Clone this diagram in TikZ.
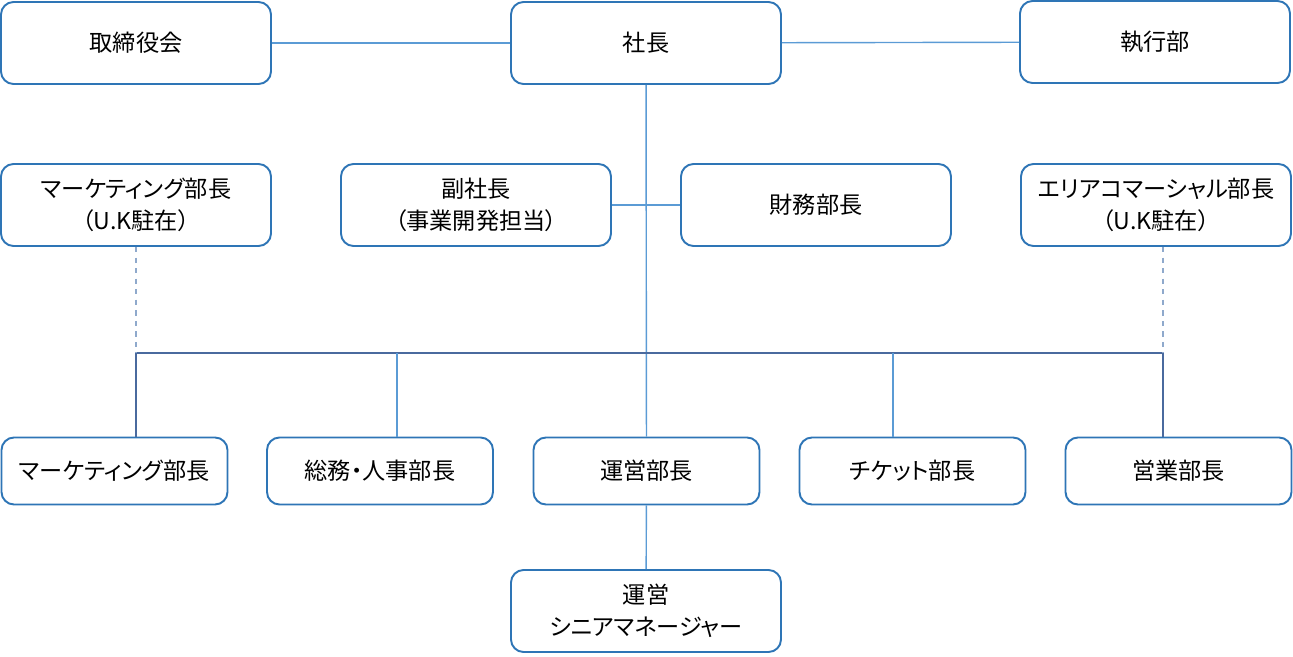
\documentclass[tikz,border=0pt]{standalone}
\usepackage{fontspec}
\setmainfont{Noto Sans CJK JP}[RawFeature=+palt]
\usepackage{tikz}
\usetikzlibrary{positioning,calc}
\definecolor{boxblue}{HTML}{2E75B6}
\definecolor{linkblue}{HTML}{5B9BD5}
\definecolor{busblue}{HTML}{4A6A9E}
\definecolor{dashblue}{HTML}{8FA9CC}
\tikzset{%
	post/.style     = {draw=boxblue, line width=1.1pt, rounded corners=0.25cm, fill=white, align=center, font=\fontsize{13.2}{18}\selectfont, minimum width=5.4cm, minimum height=1.64cm}, % upper boxes
	staff/.style    = {post, minimum width=4.52cm, minimum height=1.34cm}, % lower row
	link/.style     = {draw=linkblue, line width=0.8pt},
	bus/.style      = {draw=busblue, line width=0.8pt},
	remote/.style   = {draw=dashblue, line width=0.8pt, dashed},
	waypoint/.style = {coordinate},
}
\begin{document}
\begin{tikzpicture}
	\useasboundingbox (0,0) rectangle (25.86,-13.14);
	% top row
	\node[post] (board) at (2.72,-0.86) {取締役会};
	\node[post] (pres) at (12.92,-0.86) {社長};
	\node[post] (exec) at (23.1,-0.84) {執行部};
	% second row
	\node[post] (mkuk) at (2.72,-4.1) {マーケティング部長\\（U.K駐在）};
	\node[post] (vp) at (9.52,-4.1) {副社長\\（事業開発担当）};
	\node[post] (fin) at (16.32,-4.1) {財務部長};
	\node[post] (areauk) at (23.12,-4.1) {エリアコマーシャル部長\\（U.K駐在）};
	% department heads
	\node[staff] (mk) at (2.29,-9.42) {マーケティング部長};
	\node[staff] (ga) at (7.6,-9.42) {総務・人事部長};
	\node[staff] (ops) at (12.93,-9.42) {運営部長};
	\node[staff] (tix) at (18.25,-9.42) {チケット部長};
	\node[staff] (sales) at (23.57,-9.42) {営業部長};
	\node[post] (senior) at (12.92,-12.22) {運営\\シニアマネージャー};
	% bus
	\node[waypoint] (b1) at (2.72,-7.06) {};
	\node[waypoint] (b2) at (7.94,-7.06) {};
	\node[waypoint] (b3) at (12.92,-7.06) {};
	\node[waypoint] (b4) at (17.86,-7.06) {};
	\node[waypoint] (b5) at (23.26,-7.06) {};
	\draw[link] (board) -- (pres);
	\draw[link] (pres) -- (exec);
	\draw[link] (pres) -- (ops);
	\draw[link] (vp) -- (fin);
	\draw[bus] (b1) -- (b5);
	\draw[bus] (b1) -- (b1 |- mk.north);
	\draw[link] (b2) -- (b2 |- ga.north);
	\draw[link] (b4) -- (b4 |- tix.north);
	\draw[bus] (b5) -- (b5 |- sales.north);
	\draw[remote] (b1 |- mkuk.south) -- (b1);
	\draw[remote] (b5 |- areauk.south) -- (b5);
	\draw[link] (ops) -- (senior);
\end{tikzpicture}
\end{document}
